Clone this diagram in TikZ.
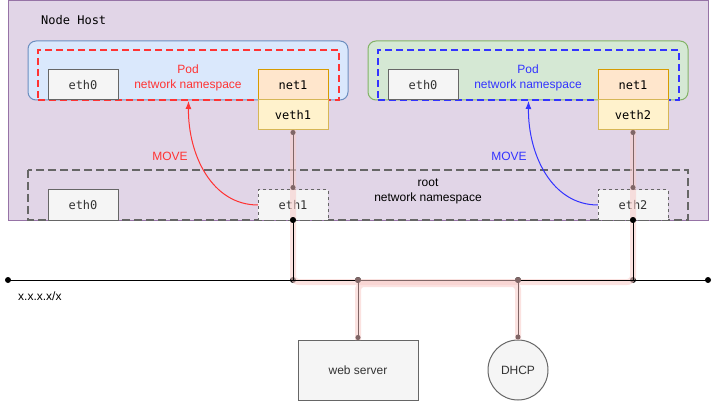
\documentclass[tikz,border=0pt]{standalone}
\usepackage{fontspec}
\setmainfont{Liberation Sans}
\setmonofont{DejaVu Sans Mono}
\usepackage{tikz}
\usetikzlibrary{positioning, shapes.geometric, arrows.meta}

\definecolor{hostfill}{HTML}{E1D5E7}
\definecolor{hostline}{HTML}{9673A6}
\definecolor{podafill}{HTML}{DAE8FC}
\definecolor{podaline}{HTML}{6C8EBF}
\definecolor{podbfill}{HTML}{D5E8D4}
\definecolor{podbline}{HTML}{82B366}
\definecolor{nsred}{HTML}{FF3333}
\definecolor{nsblue}{HTML}{3333FF}
\definecolor{boxfill}{HTML}{F5F5F5}
\definecolor{boxline}{HTML}{666666}
\definecolor{netfill}{HTML}{FFE6CC}
\definecolor{netline}{HTML}{D79B00}
\definecolor{vethfill}{HTML}{FFF2CC}
\definecolor{vethline}{HTML}{D6B656}
\definecolor{linkcol}{HTML}{806666}
\definecolor{glowcol}{HTML}{F8CECC}
\definecolor{txt}{HTML}{333333}

\tikzset{
  lbl/.style={font=\fontsize{12}{15}\selectfont, align=center, inner sep=0pt},
  iface/.style={draw=boxline, fill=boxfill, line width=1pt, minimum width=70pt, minimum height=30pt, inner sep=0pt, outer sep=0pt, text=txt, font=\fontsize{12}{14}\selectfont\ttfamily},
  rootif/.style={iface, dash pattern=on 3pt off 3pt},
  netif/.style={iface, draw=netline, fill=netfill, text=black},
  vethif/.style={iface, draw=vethline, fill=vethfill, text=black},
  pod/.style={rounded corners=8pt, line width=1pt, minimum width=320pt, minimum height=59pt, inner sep=0pt},
  podns/.style={dash pattern=on 7pt off 4pt, line width=2pt, minimum width=301pt, minimum height=50pt, inner sep=0pt},
  move/.style={line width=1pt, -{Latex[length=8pt, width=6pt]}},
  link/.style={draw=linkcol, line width=1pt, {Circle[length=5pt]}-{Circle[length=5pt]}},
  glow/.style={draw=glowcol, line width=6pt, opacity=.6, rounded corners=6pt},
  dot/.style={circle, fill=black, inner sep=0pt, minimum size=6pt},
}

\begin{document}
\begin{tikzpicture}[x=1pt, y=-1pt]
  \useasboundingbox (0,0) rectangle (718,401);

  \draw[draw=hostline, fill=hostfill, line width=1pt] (8.5,0.5) rectangle (708.5,220.5);
  \node[lbl, font=\fontsize{12}{14}\selectfont\ttfamily, text=black, anchor=west] (host) at (41,20) {Node Host};

  \node[pod, draw=podaline, fill=podafill] (poda) at (188,70.5) {};
  \node[podns, draw=nsred] (podans) at (188.5,75) {};
  \node[lbl, text=nsred] (podalbl) at (188,78) {Pod\\network namespace};
  \node[iface] (etha) at (83,85) {eth0};
  \node[netif] (neta) at (293,85) {net1};
  \node[vethif, below=0pt of neta] (veth1) {veth1};

  \node[pod, draw=podbline, fill=podbfill] (podb) at (528,70.5) {};
  \node[podns, draw=nsblue] (podbns) at (528.5,75) {};
  \node[lbl, text=nsblue] (podblbl) at (528,78) {Pod\\network namespace};
  \node[iface] (ethb) at (423,85) {eth0};
  \node[netif] (netb) at (633,85) {net1};
  \node[vethif, below=0pt of netb] (veth2) {veth2};

  \draw[draw=boxline, line width=2pt, dash pattern=on 8pt off 4pt] (28,170) rectangle (688,220);
  \node[lbl, text=black] (rootlbl) at (428,191) {root\\network namespace};
  \node[iface] (eth0) at (83,205) {eth0};
  \node[rootif] (eth1) at (293,205) {eth1};
  \node[rootif] (eth2) at (633,205) {eth2};

  \node[iface, minimum width=120pt, minimum height=60pt, font=\fontsize{12}{14}\selectfont] (web) at (358,370) {web server};
  \node[ellipse, draw=boxline, fill=boxfill, line width=1pt, minimum width=60pt, minimum height=60pt, inner sep=0pt, text=txt, font=\fontsize{12}{14}\selectfont] (dhcp) at (518,370) {DHCP};

  \node[lbl, anchor=west] (subnet) at (18,296) {x.x.x.x/x};

  \node[dot] (busl) at (8,280) {};
  \node[dot] (j1) at (293,280) {};
  \node[dot] (j2) at (358,280) {};
  \node[dot] (j3) at (518,280) {};
  \node[dot] (j4) at (633,280) {};
  \node[dot] (busr) at (708,280) {};
  \node[dot] (e1) at (293,220) {};
  \node[dot] (e2) at (633,220) {};

  \draw[glow] (veth1.south) -- ([yshift=-2pt]j1.center) -- ([yshift=-2pt]j4.center) -- (veth2.south);
  \draw[glow] (web.north) -- ([yshift=-4pt]j2.center) -- ([yshift=-4pt]j3.center) -- (dhcp.north);

  \draw[line width=1pt] (busl.center) -- (busr.center);
  \draw[line width=1pt] (e1.center) -- (j1.center);
  \draw[line width=1pt] (e2.center) -- (j4.center);
  \draw[link] (veth1) -- (eth1);
  \draw[link] (veth2) -- (eth2);
  \draw[link] (web.north) -- (j2.center) -- (j3.center) -- (dhcp.north);
  \fill[linkcol] (j2) circle (3pt) (j3) circle (3pt);
  \fill (e1) circle (3pt) (e2) circle (3pt);

  \draw[move, nsred] (eth1.west) .. controls (212,205) and (188,155) .. (podans.south);
  \node[lbl, text=nsred] (movea) at (170,156) {MOVE};
  \draw[move, nsblue] (eth2.west) .. controls (552,205) and (528,155) .. (podbns.south);
  \node[lbl, text=nsblue] (moveb) at (509,156) {MOVE};
\end{tikzpicture}
\end{document}
